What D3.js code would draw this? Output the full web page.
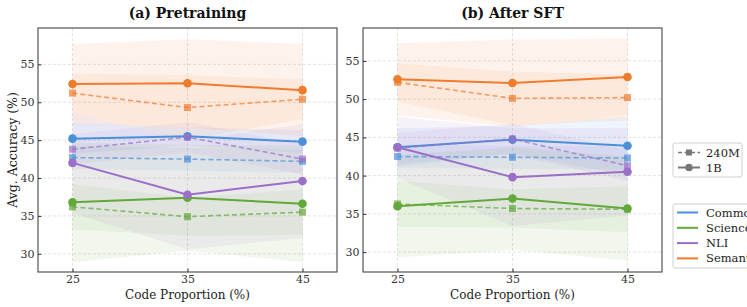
<!DOCTYPE html>
<html>
<head>
<meta charset="utf-8">
<script src="https://cdn.jsdelivr.net/npm/d3@7"></script>
<style>
  body { margin: 0; background: #fff; }
  svg { display: block; }
  svg text { font-family: "DejaVu Serif", "Liberation Serif", serif; }
</style>
</head>
<body>
<div id="chart"></div>
<script>
(function() {
  var width = 747, height = 307;

  var codeProps = [25, 35, 45];
  var categories = ["Commonsense", "Science", "NLI", "Semantic"];
  var colors = ["#4a90d9", "#62a83a", "#9b6fc8", "#ef7b2c"];
  var sizes = ["240M", "1B"];
  var yTicks = [30, 35, 40, 45, 50, 55];

  // pretraining, rows follow categories
  var pre1B = [[45.2, 45.5, 44.8], [36.8, 37.4, 36.6], [42.0, 37.8, 39.6], [52.4, 52.5, 51.6]];
  var pre240M = [[42.7, 42.5, 42.2], [36.2, 34.9, 35.5], [43.8, 45.4, 42.5], [51.2, 49.3, 50.4]];
  var preStd1B = [[2.0, 1.2, 1.5], [7.9, 7.0, 7.7], [6.6, 7.2, 7.5], [5.3, 5.8, 6.1]];
  var preStd240M = [[1.5, 1.5, 1.5], [3.0, 2.5, 3.0], [2.0, 2.0, 2.0], [2.6, 4.3, 2.6]];

  // after SFT
  var sft1B = [[43.7, 44.7, 43.9], [36.0, 37.0, 35.7], [43.7, 39.8, 40.5], [52.6, 52.1, 52.9]];
  var sft240M = [[42.5, 42.4, 42.3], [36.3, 35.7, 35.6], [43.6, 44.8, 41.3], [52.2, 50.1, 50.2]];
  var sftStd1B = [[2.5, 1.8, 3.9], [6.7, 6.7, 6.8], [4.0, 6.4, 5.7], [4.7, 5.7, 5.0]];
  var sftStd240M = [[1.5, 1.5, 1.5], [3.0, 2.5, 3.0], [2.0, 2.0, 2.0], [2.5, 3.5, 3.0]];

  var panels = [
    { title: "(a) Pretraining", left: 38, right: 337, yDomain: [27.6, 59.8],
      m240: pre240M, m1b: pre1B, s240: preStd240M, s1b: preStd1B },
    { title: "(b) After SFT", left: 363, right: 662, yDomain: [27.4, 59.3],
      m240: sft240M, m1b: sft1B, s240: sftStd240M, s1b: sftStd1B }
  ];
  var top = 28, bottom = 272;

  var svg = d3.select("#chart")
    .append("svg")
    .attr("width", width)
    .attr("height", height);

  panels.forEach(function(p, pi) {
    var x = d3.scaleLinear().domain([22, 48]).range([p.left, p.right]);
    var y = d3.scaleLinear().domain(p.yDomain).range([bottom, top]);
    var g = svg.append("g");

    // grid
    g.selectAll(".gx").data(codeProps).enter().append("line")
      .attr("x1", function(d) { return x(d); }).attr("x2", function(d) { return x(d); })
      .attr("y1", top).attr("y2", bottom)
      .attr("stroke", "#dcdcdc").attr("stroke-width", 0.8).attr("stroke-dasharray", "3,2");
    g.selectAll(".gy").data(yTicks).enter().append("line")
      .attr("x1", p.left).attr("x2", p.right)
      .attr("y1", function(d) { return y(d); }).attr("y2", function(d) { return y(d); })
      .attr("stroke", "#dcdcdc").attr("stroke-width", 0.8).attr("stroke-dasharray", "3,2");

    var area = d3.area()
      .x(function(d) { return x(d.x); })
      .y0(function(d) { return y(d.m - d.s); })
      .y1(function(d) { return y(d.m + d.s); });
    var line = d3.line()
      .x(function(d) { return x(d.x); })
      .y(function(d) { return y(d.m); });

    function pts(means, stds) {
      return codeProps.map(function(c, i) { return { x: c, m: means[i], s: stds[i] }; });
    }

    // bands
    categories.forEach(function(cat, ci) {
      g.append("path").datum(pts(p.m240[ci], p.s240[ci]))
        .attr("d", area).attr("fill", colors[ci]).attr("fill-opacity", 0.08);
      g.append("path").datum(pts(p.m1b[ci], p.s1b[ci]))
        .attr("d", area).attr("fill", colors[ci]).attr("fill-opacity", 0.09);
    });

    // lines + markers
    categories.forEach(function(cat, ci) {
      var d240 = pts(p.m240[ci], p.s240[ci]);
      g.append("path").datum(d240)
        .attr("d", line).attr("fill", "none")
        .attr("stroke", colors[ci]).attr("stroke-opacity", 0.7)
        .attr("stroke-width", 1.6).attr("stroke-dasharray", "5,3");
      g.selectAll(".sq" + ci).data(d240).enter().append("rect")
        .attr("x", function(d) { return x(d.x) - 3.5; })
        .attr("y", function(d) { return y(d.m) - 3.5; })
        .attr("width", 7).attr("height", 7)
        .attr("fill", colors[ci]).attr("fill-opacity", 0.7);

      var d1b = pts(p.m1b[ci], p.s1b[ci]);
      g.append("path").datum(d1b)
        .attr("d", line).attr("fill", "none")
        .attr("stroke", colors[ci]).attr("stroke-width", 2);
      g.selectAll(".ci" + ci).data(d1b).enter().append("circle")
        .attr("cx", function(d) { return x(d.x); })
        .attr("cy", function(d) { return y(d.m); })
        .attr("r", 4.3)
        .attr("fill", colors[ci]);
    });

    // axes with inward ticks
    var xAxis = g.append("g")
      .attr("transform", "translate(0," + bottom + ")")
      .call(d3.axisBottom(x).tickValues(codeProps).tickSizeInner(-3.5).tickSizeOuter(0).tickPadding(3));
    var yAxis = g.append("g")
      .attr("transform", "translate(" + p.left + ",0)")
      .call(d3.axisLeft(y).tickValues(yTicks).tickSizeInner(-3.5).tickSizeOuter(0).tickPadding(3.5));
    [xAxis, yAxis].forEach(function(a) {
      a.attr("font-family", null);
      a.select(".domain").remove();
      a.selectAll(".tick line").attr("stroke", "#333");
      a.selectAll(".tick text")
        .attr("fill", "#333")
        .style("font-size", "11px");
    });

    g.append("rect")
      .attr("x", p.left).attr("y", top)
      .attr("width", p.right - p.left).attr("height", bottom - top)
      .attr("fill", "none").attr("stroke", "#333").attr("stroke-width", 1);

    var cx = (p.left + p.right) / 2;
    g.append("text")
      .attr("x", cx).attr("y", 18)
      .attr("text-anchor", "middle")
      .style("font-size", "14px").style("font-weight", "bold")
      .attr("fill", "#111")
      .text(p.title);

    g.append("text")
      .attr("x", cx).attr("y", 299)
      .attr("text-anchor", "middle")
      .style("font-size", "12px")
      .attr("fill", "#222")
      .text("Code Proportion (%)");

    if (pi === 0) {
      g.append("text")
        .attr("transform", "translate(17," + ((top + bottom) / 2) + ") rotate(-90)")
        .attr("text-anchor", "middle")
        .style("font-size", "12.5px")
        .attr("fill", "#222")
        .text("Avg. Accuracy (%)");
    }
  });

  // size legend
  var lg = svg.append("g");
  lg.append("rect")
    .attr("x", 673).attr("y", 143).attr("width", 69).attr("height", 34).attr("rx", 2)
    .attr("fill", "#fff").attr("stroke", "#d0d0d0");
  sizes.forEach(function(s, i) {
    var yy = 152.5 + i * 15;
    lg.append("line")
      .attr("x1", 678).attr("x2", 700).attr("y1", yy).attr("y2", yy)
      .attr("stroke", "#777").attr("stroke-width", i === 0 ? 1.6 : 2)
      .attr("stroke-dasharray", i === 0 ? "4,2.5" : null);
    if (i === 0) {
      lg.append("rect").attr("x", 686).attr("y", yy - 3).attr("width", 6).attr("height", 6).attr("fill", "#777");
    } else {
      lg.append("circle").attr("cx", 689).attr("cy", yy).attr("r", 3.8).attr("fill", "#777");
    }
    lg.append("text")
      .attr("x", 706).attr("y", yy + 4)
      .style("font-size", "11.5px").attr("fill", "#222")
      .text(s);
  });

  // category legend
  lg.append("rect")
    .attr("x", 673).attr("y", 204).attr("width", 90).attr("height", 64).attr("rx", 2)
    .attr("fill", "#fff").attr("stroke", "#d0d0d0");
  categories.forEach(function(c, i) {
    var yy = 212.5 + i * 15.3;
    lg.append("line")
      .attr("x1", 677).attr("x2", 698).attr("y1", yy).attr("y2", yy)
      .attr("stroke", colors[i]).attr("stroke-width", 2);
    lg.append("text")
      .attr("x", 706).attr("y", yy + 4)
      .style("font-size", "11.5px").attr("fill", "#222")
      .text(c);
  });
})();
</script>
</body>
</html>
